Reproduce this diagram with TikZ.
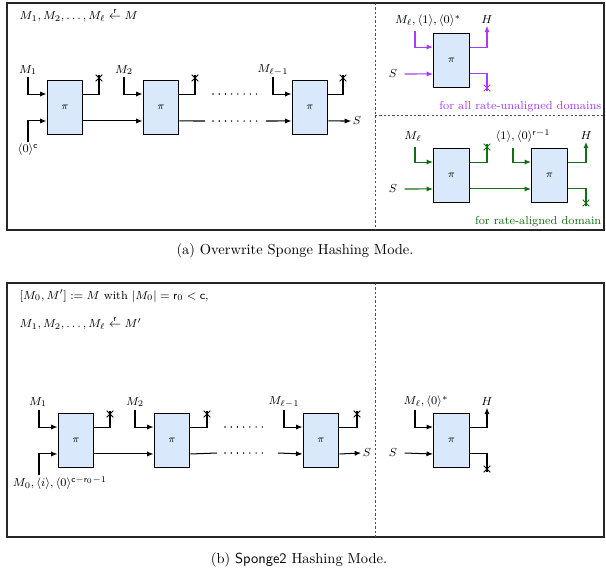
\documentclass[tikz,border=0pt]{standalone}
\usepackage{amsmath}
\usetikzlibrary{arrows.meta,shapes.misc,calc}
\definecolor{boxblue}{RGB}{218,232,252}
\definecolor{ppl}{RGB}{165,60,255}
\definecolor{grn}{RGB}{20,110,20}
\begin{document}
\begin{tikzpicture}[x=0.69pt,y=-0.69pt,
  pbox/.style={draw, fill=boxblue, minimum width=24.8pt, minimum height=36.6pt, inner sep=0pt, font=\scriptsize, line width=0.7pt},
  arr/.style={line width=0.7pt, -{Latex[length=4.5pt,width=3.6pt]}},
  wire/.style={line width=0.7pt},
  xm/.style={draw, cross out, minimum size=3.8pt, inner sep=0pt, line width=0.7pt},
  lbl/.style={font=\footnotesize, inner sep=1pt},
  frame/.style={line width=0.9pt, black!85},
  sep/.style={line width=0.6pt, black!70, dash pattern=on 1.5pt off 1.5pt},
  dotsl/.style={line width=1.1pt, line cap=round, dash pattern=on 0pt off 4.3pt},
  up/.style={yshift=9.3pt},
  dn/.style={yshift=-9.3pt}
]
\useasboundingbox (0,0) rectangle (606,575);

% ================= Panel (a) =================
\draw[frame] (7,3) rectangle (604,230);
\draw[sep] (375,3) -- (375,230);
\draw[sep] (375,115) -- (604,115);

\node[lbl, anchor=west] (ta) at (18,15) {$M_1, M_2, \dots, M_\ell \overset{\mathsf{r}}{\leftarrow} M$};

\node[pbox] (a1) at (65,107.5) {$\pi$};
\node[pbox] (a2) at (161,107.5) {$\pi$};
\node[pbox] (a3) at (310,107.5) {$\pi$};

\node[lbl] (am1) at (28,70) {$M_1$};
\node[lbl] (am2) at (124,70) {$M_2$};
\node[lbl] (am3) at (273,70) {$M_{\ell-1}$};
\node[lbl] (az) at (28,150) {$\langle 0\rangle^{\mathsf{c}}$};
\node[lbl] (aS) at (357,121) {$S$};

\node[xm] (ax1) at (99,78) {};
\node[xm] (ax2) at (195,78) {};
\node[xm] (ax3) at (343,78) {};

\draw[arr] (am1.south) |- ([up]a1.west);
\draw[arr] (az.north) |- ([dn]a1.west);
\draw[wire] ([up]a1.east) -| (ax1.north);
\draw[arr] ([dn]a1.east) -- ([dn]a2.west);

\draw[arr] (am2.south) |- ([up]a2.west);
\draw[wire] ([up]a2.east) -| (ax2.north);
\coordinate (ae2) at (205,121);
\draw[wire] ([dn]a2.east) -- (ae2);
\coordinate (ad1) at (213,94);
\coordinate (ad2) at (257,94);
\coordinate (ad3) at (213,121);
\coordinate (ad4) at (257,121);
\draw[dotsl] (ad1) -- (ad2);
\draw[dotsl] (ad3) -- (ad4);
\coordinate (as3) at (266,121);
\draw[arr] (as3) -- ([dn]a3.west);

\draw[arr] (am3.south) |- ([up]a3.west);
\draw[wire] ([up]a3.east) -| (ax3.north);
\draw[arr] ([dn]a3.east) -- (aS.west);

% ---- purple: rate-unaligned ----
\node[pbox] (p1) at (451.5,60.5) {$\pi$};
\node[lbl] (pl) at (428,21) {$M_\ell,\langle 1\rangle,\langle 0\rangle^{*}$};
\coordinate (ppin) at (415,31);
\node[lbl] (pS) at (393,74) {$S$};
\node[lbl] (pH) at (487,20) {$H$};
\node[xm, draw=ppl] (px) at (487,88) {};
\draw[arr, ppl] (ppin) |- ([up]p1.west);
\draw[arr, ppl] (pS.east) ++(4pt,0) -- ([dn]p1.west);
\draw[arr, ppl] ([up]p1.east) -| (pH.south);
\draw[wire, ppl] ([dn]p1.east) -| (px.south);
\node[lbl, anchor=east, text=ppl] (pt) at (603,107) {for all rate-unaligned domains};

% ---- green: rate-aligned ----
\node[pbox] (g1) at (451.5,175.5) {$\pi$};
\node[pbox] (g2) at (549.5,175.5) {$\pi$};
\node[lbl] (gl) at (413,137) {$M_\ell$};
\coordinate (gpin) at (415,147);
\node[lbl] (gr) at (523,136) {$\langle 1\rangle,\langle 0\rangle^{\mathsf{r}-1}$};
\coordinate (gpin2) at (513,148);
\node[lbl] (gS) at (393,189) {$S$};
\node[lbl] (gH) at (586,136) {$H$};
\node[xm, draw=grn] (gx1) at (487,147) {};
\node[xm, draw=grn] (gx2) at (586,203) {};
\draw[arr, grn] (gpin) |- ([up]g1.west);
\draw[arr, grn] (gS.east) ++(4pt,0) -- ([dn]g1.west);
\draw[wire, grn] ([up]g1.east) -| (gx1.north);
\draw[arr, grn] ([dn]g1.east) -- ([dn]g2.west);
\draw[arr, grn] (gpin2) |- ([up]g2.west);
\draw[arr, grn] ([up]g2.east) -| (gH.south);
\draw[wire, grn] ([dn]g2.east) -| (gx2.south);
\node[lbl, anchor=east, text=grn] (gt) at (603,222) {for rate-aligned domain};

\node[inner sep=1pt] (capa) at (295,251) {(a) Overwrite Sponge Hashing Mode.};

% ================= Panel (b) =================
\draw[frame] (7,283) rectangle (604,537);
\draw[sep] (375,283) -- (375,537);

\node[lbl, anchor=west] (tb1) at (18,296) {$[M_0,M'] := M$ with $|M_0| = \mathsf{r}_0 < \mathsf{c}$,};
\node[lbl, anchor=west] (tb2) at (18,323) {$M_1, M_2, \dots, M_\ell \overset{\mathsf{r}}{\leftarrow} M'$};

\node[pbox] (c1) at (76,440.5) {$\pi$};
\node[pbox] (c2) at (172,440.5) {$\pi$};
\node[pbox] (c3) at (321,440.5) {$\pi$};

\node[lbl] (cm1) at (38,402) {$M_1$};
\coordinate (cp1) at (39,410);
\node[lbl] (cm2) at (135,402) {$M_2$};
\coordinate (cp2) at (135,410);
\node[lbl] (cm3) at (284,402) {$M_{\ell-1}$};
\coordinate (cp3) at (284,410);
\node[lbl] (cz) at (60,483) {$M_0,\langle i\rangle,\langle 0\rangle^{\mathsf{c}-\mathsf{r}_0-1}$};
\coordinate (czp) at (39,475);
\node[lbl] (cS) at (367,453) {$S$};

\node[xm] (cx1) at (110,414) {};
\node[xm] (cx2) at (207,414) {};
\node[xm] (cx3) at (357,414) {};

\draw[arr] (cp1) |- ([up]c1.west);
\draw[arr] (czp) |- ([dn]c1.west);
\draw[wire] ([up]c1.east) -| (cx1.north);
\draw[arr] ([dn]c1.east) -- ([dn]c2.west);

\draw[arr] (cp2) |- ([up]c2.west);
\draw[wire] ([up]c2.east) -| (cx2.north);
\coordinate (ce2) at (217,453);
\draw[wire] ([dn]c2.east) -- (ce2);
\coordinate (cd1) at (225,427);
\coordinate (cd2) at (268,427);
\coordinate (cd3) at (225,453);
\coordinate (cd4) at (268,453);
\draw[dotsl] (cd1) -- (cd2);
\draw[dotsl] (cd3) -- (cd4);
\coordinate (cs3) at (278,453);
\draw[arr] (cs3) -- ([dn]c3.west);

\draw[arr] (cp3) |- ([up]c3.west);
\draw[wire] ([up]c3.east) -| (cx3.north);
\draw[arr] ([dn]c3.east) -- (cS.west);

% right part
\node[pbox] (c4) at (451.5,440.5) {$\pi$};
\node[lbl] (cl) at (426,402) {$M_\ell,\langle 0\rangle^{*}$};
\coordinate (cp4) at (415,410);
\node[lbl] (cS2) at (393,453) {$S$};
\node[lbl] (cH) at (487,402) {$H$};
\node[xm] (cx4) at (487,469) {};
\draw[arr] (cp4) |- ([up]c4.west);
\draw[arr] (cS2.east) ++(4pt,0) -- ([dn]c4.west);
\draw[arr] ([up]c4.east) -| (cH.south);
\draw[wire] ([dn]c4.east) -| (cx4.south);

\node[inner sep=1pt] (capb) at (299,560) {(b) \textsf{Sponge2} Hashing Mode.};
\end{tikzpicture}
\end{document}
